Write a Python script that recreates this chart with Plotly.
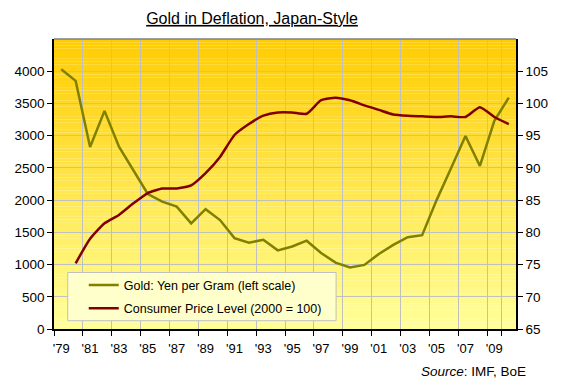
import plotly.graph_objects as go

years = list(range(1979, 2011))
year_labels = ["'" + str(y)[2:] for y in years]

gold_yen_per_gram = [4030, 3850, 2825, 3385, 2830, 2470, 2095, 1975, 1900, 1640,
                     1860, 1690, 1410, 1340, 1385, 1220, 1280, 1370, 1180, 1030,
                     955, 995, 1165, 1305, 1425, 1455, 2000, 2495, 2995, 2530,
                     3230, 3590]

cpi_level = [None, 75.2, 79.0, 81.4, 82.7, 84.5, 86.1, 86.8, 86.8, 87.3,
             89.2, 91.7, 95.1, 96.8, 98.1, 98.6, 98.6, 98.4, 100.5, 100.9,
             100.5, 99.7, 99.0, 98.3, 98.1, 98.0, 97.9, 98.0, 97.9, 99.4,
             97.9, 96.8]

left_ticks = list(range(0, 4001, 500))
right_ticks = list(range(65, 106, 5))

FONT = "Liberation Sans, Arial, sans-serif"

fig = go.Figure()
fig.add_trace(go.Scatter(
    x=year_labels, y=gold_yen_per_gram, mode="lines",
    name="Gold: Yen per Gram (left scale)",
    line=dict(color="#808000", width=2.5),
    legendgroup="g1", yaxis="y"))
fig.add_trace(go.Scatter(
    x=year_labels, y=cpi_level, mode="lines",
    name="Consumer Price Level (2000 = 100)",
    line=dict(color="#800000", width=2.5, shape="spline", smoothing=0.5),
    legendgroup="g2", yaxis="y2"))

# vertical gradient background of the plot area
shapes = []
N = 90
top = (255, 204, 0)
bot = (255, 255, 153)
for i in range(N):
    t = (i + 0.5) / N
    c = tuple(round(top[k] + (bot[k] - top[k]) * t) for k in range(3))
    shapes.append(dict(type="rect", xref="paper", yref="paper",
                       x0=0, x1=1, y1=1 - i / N, y0=1 - (i + 1.02) / N,
                       fillcolor="rgb(%d,%d,%d)" % c, line=dict(width=0),
                       layer="below"))
# top border of plot area
shapes.append(dict(type="line", xref="paper", yref="paper", x0=0, x1=1, y0=1, y1=1,
                   line=dict(color="#808080", width=1.5), layer="above"))
# legend box
shapes.append(dict(type="rect", xref="paper", yref="paper",
                   x0=0.0297, x1=0.6106, y0=0.0286, y1=0.1948,
                   fillcolor="#FFFFCC", line=dict(color="#C0C0C0", width=1),
                   layer="above"))

fig.update_layout(
    width=588, height=390,
    margin=dict(l=54, r=72, t=39, b=61, autoexpand=False),
    paper_bgcolor="white",
    plot_bgcolor="rgba(0,0,0,0)",
    font=dict(family=FONT, size=13, color="black"),
    title=dict(text="<u>Gold in Deflation, Japan-Style</u>",
               x=0.4286, xanchor="center", y=0.953, yanchor="middle",
               font=dict(family=FONT, size=16, color="black")),
    shapes=shapes,
    showlegend=True,
    legend=dict(x=0.0644, y=0.202, xanchor="left", yanchor="top",
                bgcolor="rgba(0,0,0,0)", borderwidth=0,
                font=dict(family=FONT, size=12.5, color="black"),
                tracegroupgap=4, traceorder="grouped"),
    xaxis=dict(type="category", categoryorder="array", categoryarray=year_labels,
               tickmode="array", tickvals=year_labels[::2], ticktext=year_labels[::2],
               tickson="boundaries", ticks="outside", ticklen=5, tickcolor="black",
               tickangle=0, automargin=False, ticklabelstandoff=7,
               showline=True, linecolor="black", linewidth=1.5,
               showgrid=True, gridcolor="#C0C0C0", gridwidth=1,
               range=[-0.5, len(year_labels) - 0.5],
               tickfont=dict(family=FONT, size=13, color="black")),
    yaxis=dict(range=[0, 4500], tickmode="array", tickvals=left_ticks,
               ticks="outside", ticklen=5, tickcolor="black", automargin=False,
               showline=True, linecolor="black", linewidth=1.5,
               showgrid=True, gridcolor="#C0C0C0", gridwidth=1, zeroline=False,
               tickfont=dict(family=FONT, size=13.5, color="black")),
    yaxis2=dict(range=[65, 110], tickmode="array", tickvals=right_ticks,
                overlaying="y", side="right", automargin=False,
                ticks="outside", ticklen=5, tickcolor="black",
                showline=True, linecolor="black", linewidth=1.5,
                showgrid=False, zeroline=False,
                tickfont=dict(family=FONT, size=13.5, color="black")),
    annotations=[dict(text="<i>Source</i>: IMF, BoE", xref="paper", yref="paper",
                      x=1.0267, y=-0.146, xanchor="right", yanchor="middle",
                      showarrow=False, font=dict(family=FONT, size=13.5, color="black"))],
)

fig.write_html("out.html", config={"displayModeBar": False},
               post_script="document.body.style.margin='0';document.body.style.padding='0';")
